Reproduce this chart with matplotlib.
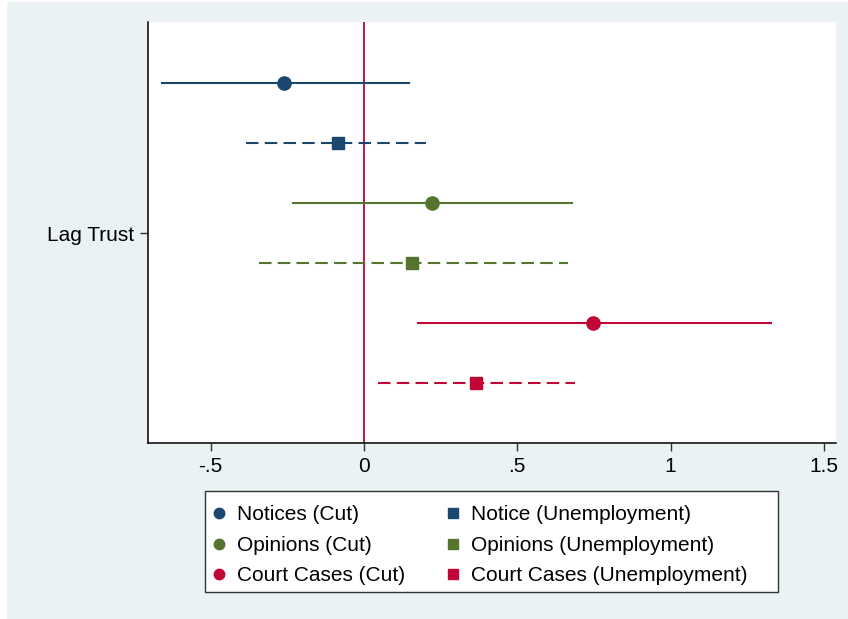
import matplotlib
matplotlib.use("Agg")
import matplotlib.pyplot as plt
from matplotlib.patches import Rectangle
from matplotlib.lines import Line2D

plt.rcParams['font.family'] = ['Liberation Sans', 'DejaVu Sans']

# Coefficient estimates and 95% confidence bounds for "Lag Trust"
labels = ["Notices (Cut)", "Notice (Unemployment)",
          "Opinions (Cut)", "Opinions (Unemployment)",
          "Court Cases (Cut)", "Court Cases (Unemployment)"]
estimates = [-0.261, -0.085, 0.222, 0.157, 0.747, 0.365]
ci_low = [-0.659, -0.385, -0.231, -0.342, 0.176, 0.046]
ci_high = [0.147, 0.202, 0.678, 0.665, 1.327, 0.688]

colors = ["#1a476f", "#1a476f", "#55752f", "#55752f", "#c10534", "#c10534"]
markers = ["o", "s", "o", "s", "o", "s"]
styles = ["solid", (0, (6, 3)), "solid", (0, (6, 3)), "solid", (0, (6, 3))]

# vertical offsets of the six estimates around the single coefficient row
offsets = [2.5, 1.5, 0.5, -0.5, -1.5, -2.5]

xticks = [-0.5, 0, 0.5, 1, 1.5]
xticklabels = ["-.5", "0", ".5", "1", "1.5"]

W, H = 848, 619
fig = plt.figure(figsize=(W / 100, H / 100), dpi=100, facecolor="white")
fig.patches.append(Rectangle((7 / W, 0), 1, (H - 2) / H,
                             transform=fig.transFigure, facecolor="#eaf2f3",
                             edgecolor="none", zorder=-10))

ax = fig.add_axes([148 / W, (H - 443) / H, (836 - 148) / W, (443 - 22) / H])
ax.set_facecolor("white")

ax.axvline(0, color="#c10534", lw=1.3, zorder=1)

handles = []
for lab, est, lo, hi, c, m, ls, off in zip(labels, estimates, ci_low, ci_high,
                                          colors, markers, styles, offsets):
    ax.plot([lo, hi], [off, off], color=c, lw=1.5, linestyle=ls, zorder=2)
    ax.plot([est], [off], marker=m, color=c, markersize=9.5 if m == "o" else 9,
            linestyle="none", zorder=3)
    handles.append(Line2D([], [], marker=m, color=c, linestyle="none",
                          markersize=7.5 if m == "o" else 7))

ax.set_xlim(-0.704, 1.539)
ax.set_ylim(-3.5, 3.517)
ax.set_xticks(xticks)
ax.set_xticklabels(xticklabels, fontsize=15)
ax.set_yticks([0])
ax.set_yticklabels(["Lag Trust"], fontsize=15)
ax.tick_params(axis="both", direction="out", length=6, width=1, color="#333333", pad=4)

for side in ("top", "right"):
    ax.spines[side].set_visible(False)
for side in ("left", "bottom"):
    ax.spines[side].set_linewidth(1.1)
    ax.spines[side].set_color("black")

# legend box (drawn separately so it can carry extra right-hand padding)
fig.patches.append(Rectangle((205 / W, (H - 592) / H), (778 - 205) / W, (592 - 491) / H,
                             transform=fig.transFigure, facecolor="white",
                             edgecolor="#333333", linewidth=1.0, zorder=-5))

order = [0, 2, 4, 1, 3, 5]
leg = fig.legend([handles[i] for i in order], [labels[i] for i in order],
                 ncol=2, loc="upper left",
                 bbox_to_anchor=(202 / W, (H - 494) / H),
                 borderaxespad=0,
                 fontsize=15, frameon=False,
                 handlelength=0.55, handletextpad=0.6, columnspacing=2.0,
                 labelspacing=0.55, borderpad=0.55)

fig.savefig("out.png", dpi=100, facecolor=fig.get_facecolor())
